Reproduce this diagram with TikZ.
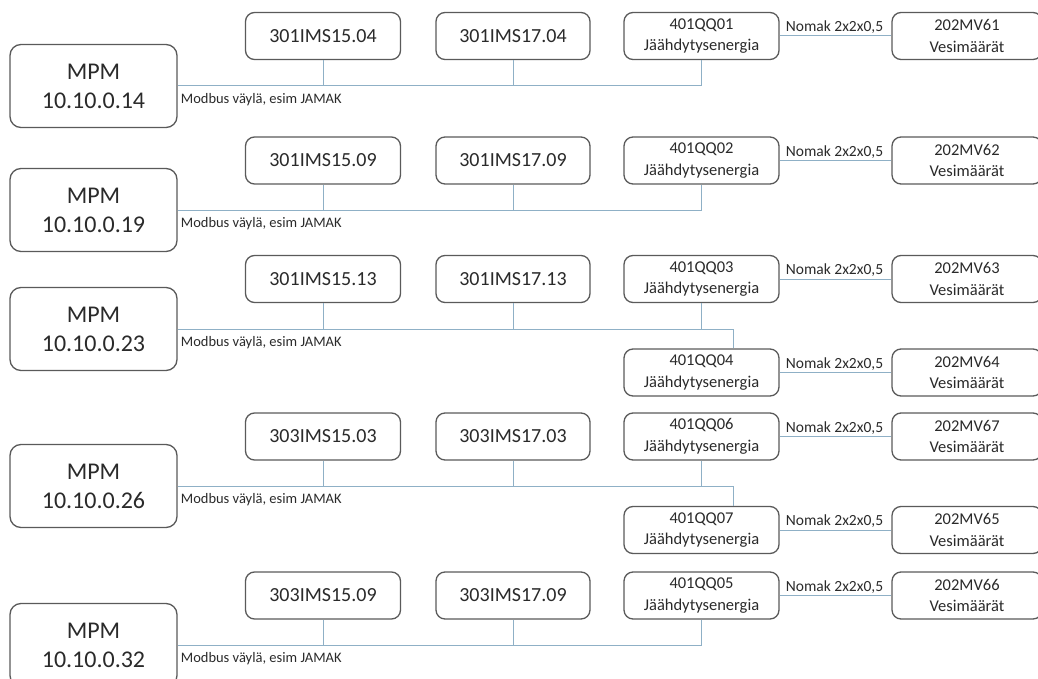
\documentclass[tikz,border=0pt]{standalone}
\usepackage{fontspec}
\setmainfont{Carlito}
\usetikzlibrary{calc}
\definecolor{boxline}{HTML}{5A5A5A}
\definecolor{busline}{HTML}{8FB0C6}
\definecolor{txt}{HTML}{2A2A2A}
\begin{document}
\begin{tikzpicture}[x=1pt,y=-1pt,
  box/.style={draw=boxline, line width=1.3pt, rounded corners=9pt, fill=white, text=txt, align=center, inner sep=0pt},
  mpmbox/.style={box, minimum width=167pt, minimum height=83pt, rounded corners=11pt, font=\fontsize{24}{29}\selectfont},
  imsbox/.style={box, minimum width=155pt, minimum height=47pt, font=\fontsize{20}{24}\selectfont},
  qqbox/.style={box, minimum width=155pt, minimum height=47pt, font=\fontsize{16.5}{21.5}\selectfont},
  mvbox/.style={qqbox, minimum width=150pt},
  bus/.style={draw=busline, line width=1pt},
  buslbl/.style={font=\fontsize{14.5}{17}\selectfont, text=txt, inner sep=0pt, anchor=west},
  nomlbl/.style={font=\fontsize{15.5}{18}\selectfont, text=txt, inner sep=0pt, anchor=south west}]
\useasboundingbox (0,0) rectangle (1038,679);
\clip (0,0) rectangle (1038,679);
\foreach \i/\my/\ty/\ip/\ia/\ib/\qq/\mv in {
  1/86/36/10.10.0.14/301IMS15.04/301IMS17.04/401QQ01/202MV61,
  2/210/160.5/10.10.0.19/301IMS15.09/301IMS17.09/401QQ02/202MV62,
  3/329/279/10.10.0.23/301IMS15.13/301IMS17.13/401QQ03/202MV63,
  4/486/436.5/10.10.0.26/303IMS15.03/303IMS17.03/401QQ06/202MV67,
  5/645/595.5/10.10.0.32/303IMS15.09/303IMS17.09/401QQ05/202MV66}{
  \node[mpmbox] (m\i) at (93.5,\my) {MPM\\\ip};
  \node[imsbox] (a\i) at (323,\ty) {\ia};
  \node[imsbox, minimum width=154pt] (b\i) at (513,\ty) {\ib};
  \node[qqbox] (q\i) at (701.5,\ty) {\qq\\Jäähdytysenergia};
  \node[mvbox] (v\i) at (967,\ty) {\mv\\Vesimäärät};
  \draw[bus] (a\i.south) -- (a\i.south |- m\i.east);
  \draw[bus] (b\i.south) -- (b\i.south |- m\i.east);
  \draw[bus] (q\i.south) -- (q\i.south |- m\i.east);
  \draw[bus] (q\i.east) -- (v\i.west);
  \node[nomlbl] (n\i) at ([xshift=6pt,yshift=2pt]q\i.east) {Nomak 2x2x0,5};
  \node[buslbl] (l\i) at ([xshift=3pt,yshift=-14pt]m\i.east) {Modbus väylä, esim JAMAK};
}
% rows 1,2,5: bus ends at QQ
\foreach \i in {1,2,5}{
  \draw[bus] (m\i.east) -- (q\i.south |- m\i.east);
}
% extra QQ boxes
\node[qqbox] (q34) at (701.5,372.5) {401QQ04\\Jäähdytysenergia};
\node[mvbox] (v34) at (967,372.5) {202MV64\\Vesimäärät};
\node[qqbox] (q47) at (701.5,530) {401QQ07\\Jäähdytysenergia};
\node[mvbox] (v47) at (967,530) {202MV65\\Vesimäärät};
\coordinate (j3) at ([xshift=32pt]q34.north);
\coordinate (j4) at ([xshift=32pt]q47.north);
\draw[bus] (m3.east) -- (j3 |- m3.east) -- (j3);
\draw[bus] (m4.east) -- (j4 |- m4.east) -- (j4);
\draw[bus] (q34.east) -- (v34.west);
\draw[bus] (q47.east) -- (v47.west);
\node[nomlbl] (n34) at ([xshift=6pt,yshift=2pt]q34.east) {Nomak 2x2x0,5};
\node[nomlbl] (n47) at ([xshift=6pt,yshift=2pt]q47.east) {Nomak 2x2x0,5};
\end{tikzpicture}
\end{document}
